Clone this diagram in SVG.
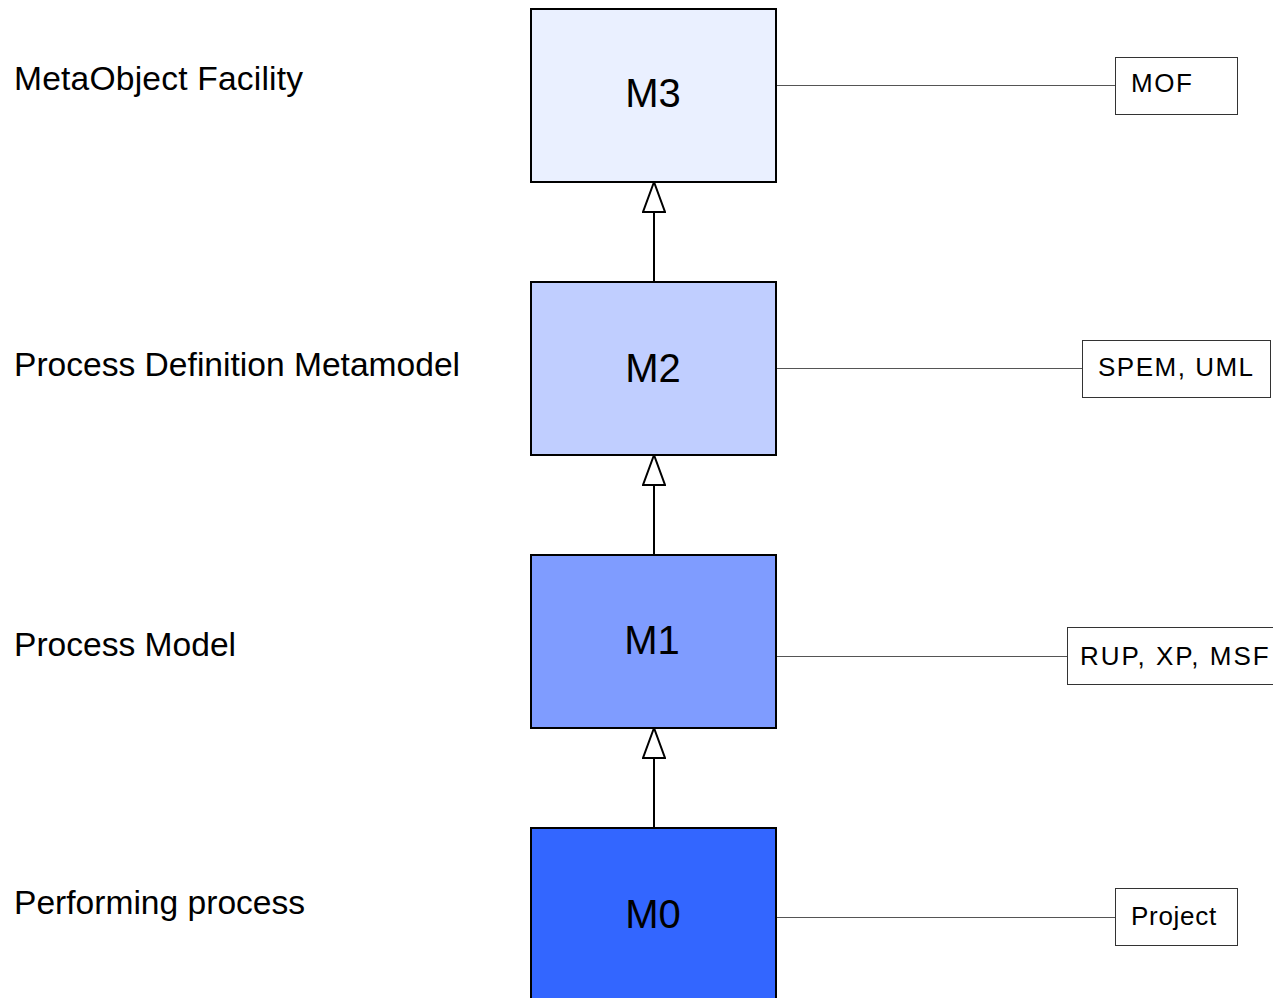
<svg xmlns="http://www.w3.org/2000/svg" width="1273" height="998" viewBox="0 0 1273 998">
<style>
.lvl{stroke:#000;stroke-width:2}
.mt{font-family:"Liberation Sans",Arial,sans-serif;font-size:40px;fill:#000;text-anchor:middle}
.lab{font-family:"Liberation Sans",Arial,sans-serif;font-size:33.6px;fill:#000}
.tag{fill:#fff;stroke:#333;stroke-width:1}
.tt{font-family:"Liberation Sans",Arial,sans-serif;font-size:26px;fill:#000;letter-spacing:1.5px}
.link{stroke:#555;stroke-width:1.2;fill:none}
.gen{stroke:#000;stroke-width:2;fill:none}
</style>
<defs>
<marker id="tri" viewBox="0 0 32 24" refX="31" refY="12" markerWidth="32" markerHeight="24" markerUnits="userSpaceOnUse" orient="auto">
<path d="M31,12 L1,1 L1,23 Z" fill="#fff" stroke="#000" stroke-width="2"/>
</marker>
</defs>
<rect width="1273" height="998" fill="#fff"/>
<g id="labels">
<text class="lab" x="14" y="90" style="letter-spacing:0.2px">MetaObject Facility</text>
<text class="lab" x="14" y="376">Process Definition Metamodel</text>
<text class="lab" x="14" y="656">Process Model</text>
<text class="lab" x="14" y="914">Performing process</text>
</g>
<g id="connectors">
<line class="gen" x1="654" y1="282" x2="654" y2="182" marker-end="url(#tri)"/>
<line class="gen" x1="654" y1="555" x2="654" y2="455" marker-end="url(#tri)"/>
<line class="gen" x1="654" y1="828" x2="654" y2="728" marker-end="url(#tri)"/>
<line class="link" x1="776" y1="85.5" x2="1115" y2="85.5"/>
<line class="link" x1="776" y1="368.5" x2="1082" y2="368.5"/>
<line class="link" x1="776" y1="656.5" x2="1067" y2="656.5"/>
<line class="link" x1="776" y1="917.5" x2="1115" y2="917.5"/>
</g>
<g id="M3"><rect class="lvl" x="531" y="9" width="245" height="173" fill="#EAF0FF"/><text class="mt" x="653" y="107">M3</text></g>
<g id="M2"><rect class="lvl" x="531" y="282" width="245" height="173" fill="#C0CEFF"/><text class="mt" x="653" y="382">M2</text></g>
<g id="M1"><rect class="lvl" x="531" y="555" width="245" height="173" fill="#7F9CFF"/><text class="mt" x="652" y="654">M1</text></g>
<g id="M0"><rect class="lvl" x="531" y="828" width="245" height="180" fill="#3366FF"/><text class="mt" x="653" y="928">M0</text></g>
<g id="MOF"><rect class="tag" x="1115.5" y="57.5" width="122" height="57"/><text class="tt" x="1131" y="92">MOF</text></g>
<g id="SPEM"><rect class="tag" x="1082.5" y="340.5" width="188" height="57"/><text class="tt" x="1098" y="376">SPEM, UML</text></g>
<g id="RUP"><rect class="tag" x="1067.5" y="627.5" width="210" height="57"/><text class="tt" x="1080" y="665" style="letter-spacing:2px">RUP, XP, MSF</text></g>
<g id="Project"><rect class="tag" x="1115.5" y="888.5" width="122" height="57"/><text class="tt" x="1131" y="925" style="letter-spacing:0.7px">Project</text></g>
</svg>
